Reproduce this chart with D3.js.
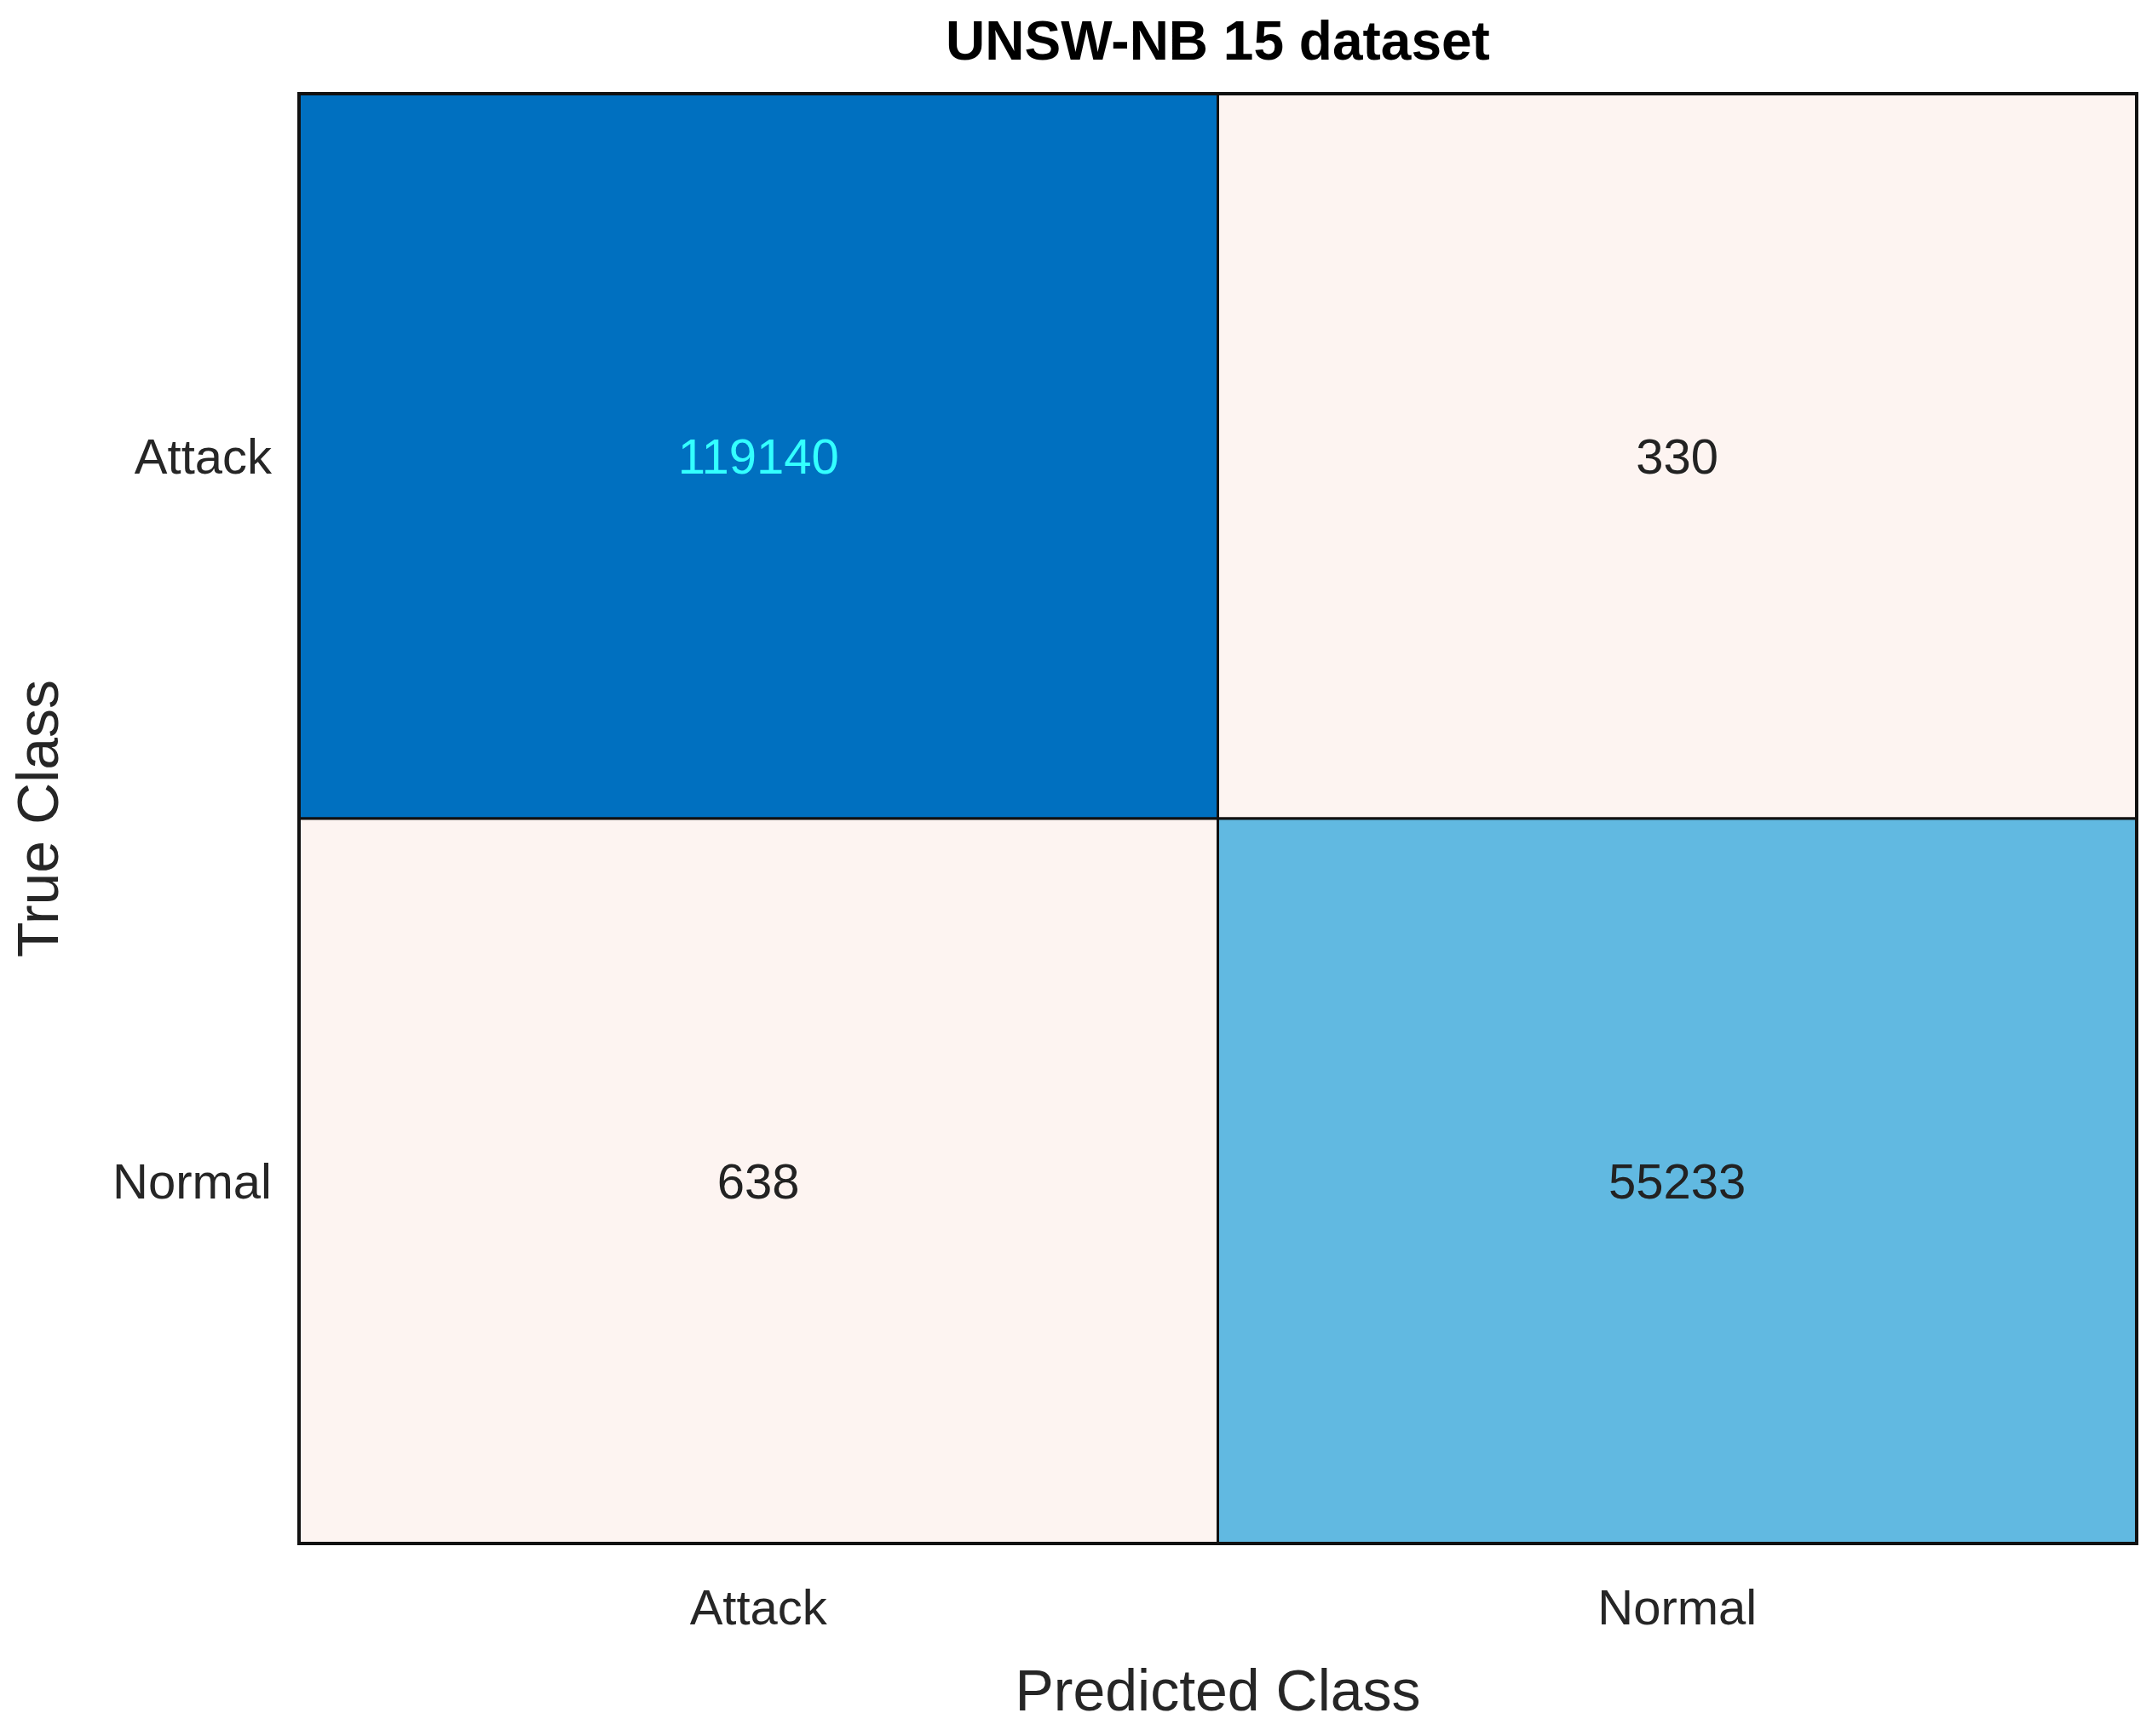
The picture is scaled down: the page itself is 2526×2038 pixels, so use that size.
<!DOCTYPE html>
<html>
<head>
<meta charset="utf-8">
<script src="https://cdn.jsdelivr.net/npm/d3@7"></script>
<style>
  body { margin: 0; background: #fff; }
  text { font-family: "Liberation Sans", Arial, sans-serif; }
</style>
</head>
<body>
<div id="chart"></div>
<script>
var classes = ['Attack', 'Normal'];
var trueClass = ['Attack', 'Attack', 'Normal', 'Normal'];
var predClass = ['Attack', 'Normal', 'Attack', 'Normal'];
var counts = [119140, 330, 638, 55233];
var cellColors = ['#0070c0', '#fdf4f1', '#fdf4f1', '#61b9e1'];
var textColors = ['#33ffff', '#222222', '#222222', '#222222'];

var margin = { top: 110, right: 18, bottom: 226, left: 351 },
    width = 2526 - margin.left - margin.right,
    height = 2038 - margin.top - margin.bottom;

var svg = d3.select('#chart').append('svg')
    .attr('width', 2526)
    .attr('height', 2038);

var g = svg.append('g')
    .attr('transform', 'translate(' + margin.left + ',' + margin.top + ')');

var x = d3.scaleBand().domain(classes).range([0, width]);
var y = d3.scaleBand().domain(classes).range([0, height]);

var cells = counts.map(function(c, i) {
    return { t: trueClass[i], p: predClass[i], v: c, fill: cellColors[i], tc: textColors[i] };
});

g.selectAll('rect.cell').data(cells).enter().append('rect')
    .attr('class', 'cell')
    .attr('x', function(d) { return x(d.p); })
    .attr('y', function(d) { return y(d.t); })
    .attr('width', x.bandwidth())
    .attr('height', y.bandwidth())
    .attr('fill', function(d) { return d.fill; })
    .attr('stroke', '#111')
    .attr('stroke-width', 3);

g.selectAll('text.val').data(cells).enter().append('text')
    .attr('x', function(d) { return x(d.p) + x.bandwidth() / 2; })
    .attr('y', function(d) { return y(d.t) + y.bandwidth() / 2 + 20; })
    .attr('text-anchor', 'middle')
    .attr('font-size', 58)
    .attr('fill', function(d) { return d.tc; })
    .text(function(d) { return d.v; });

g.append('rect')
    .attr('width', width).attr('height', height)
    .attr('fill', 'none').attr('stroke', '#111').attr('stroke-width', 4);

// tick labels
g.selectAll('text.ytick').data(classes).enter().append('text')
    .attr('x', -32)
    .attr('y', function(d) { return y(d) + y.bandwidth() / 2 + 20; })
    .attr('text-anchor', 'end')
    .attr('font-size', 58)
    .attr('fill', '#262626')
    .text(function(d) { return d; });

g.selectAll('text.xtick').data(classes).enter().append('text')
    .attr('x', function(d) { return x(d) + x.bandwidth() / 2; })
    .attr('y', height + 95)
    .attr('text-anchor', 'middle')
    .attr('font-size', 58)
    .attr('fill', '#262626')
    .text(function(d) { return d; });

// axis labels and title
svg.append('text')
    .attr('x', margin.left + width / 2)
    .attr('y', 2008)
    .attr('text-anchor', 'middle')
    .attr('font-size', 68)
    .attr('fill', '#262626')
    .text('Predicted Class');

svg.append('text')
    .attr('transform', 'translate(68,' + (margin.top + height / 2) + ') rotate(-90)')
    .attr('text-anchor', 'middle')
    .attr('font-size', 68)
    .attr('fill', '#262626')
    .text('True Class');

svg.append('text')
    .attr('x', margin.left + width / 2)
    .attr('y', 70)
    .attr('text-anchor', 'middle')
    .attr('font-size', 64)
    .attr('font-weight', 'bold')
    .attr('fill', '#000')
    .text('UNSW-NB 15 dataset');
</script>
</body>
</html>
